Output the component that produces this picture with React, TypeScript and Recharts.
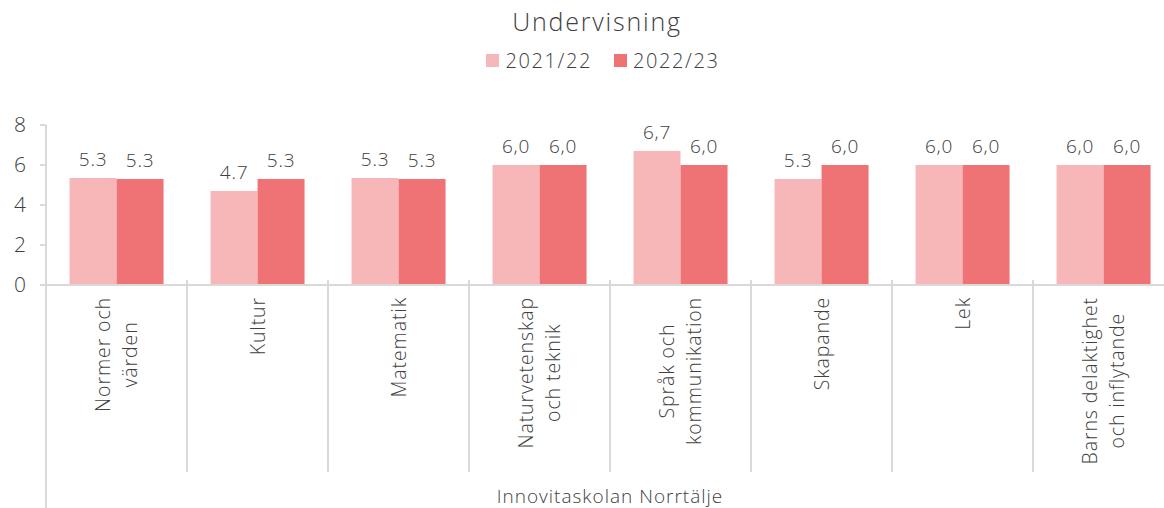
import React from "react";
import { BarChart, Bar, XAxis, YAxis, LabelList } from "recharts";

const categories = [
	["Normer och", "värden"],
	["Kultur"],
	["Matematik"],
	["Naturvetenskap", "och teknik"],
	["Språk och", "kommunikation"],
	["Skapande"],
	["Lek"],
	["Barns delaktighet", "och inflytande"],
];
const values2122 = [5.35, 4.7, 5.35, 6.0, 6.7, 5.3, 6.0, 6.0];
const values2223 = [5.3, 5.3, 5.3, 6.0, 6.0, 6.0, 6.0, 6.0];
const labels2122 = ["5.3", "4.7", "5.3", "6,0", "6,7", "5.3", "6,0", "6,0"];
const labels2223 = ["5.3", "5.3", "5.3", "6,0", "6,0", "6,0", "6,0", "6,0"];
const seriesNames = ["2021/22", "2022/23"];
const yTicks = [0, 2, 4, 6, 8];
const groupLabel = "Innovitaskolan Norrtälje";

const FONT = "'Open Sans', sans-serif";
const WEIGHT = 300;
const TEXT = "#404040";
const GRID = "#d9d9d9";
const LIGHT = "#f7b7b9";
const DARK = "#ef7274";

const CHART_W = 1180;
const CHART_H = 508;
const MARGIN = { top: 125, right: 6, bottom: 0, left: 6 };
const Y_W = 40;
const PLOT_BOTTOM = CHART_H - 223;
const BAND = (CHART_W - MARGIN.left - MARGIN.right - Y_W) / categories.length;
const CAT_SIZE = 19.5;
const CAT_LS = 0.9;

const data = categories.map((c, i) => ({
	name: c.join(" "),
	a: values2122[i],
	b: values2223[i],
	la: labels2122[i],
	lb: labels2223[i],
}));

let ctx: CanvasRenderingContext2D | null = null;
function measure(s: string) {
	if (!ctx) ctx = document.createElement("canvas").getContext("2d");
	if (!ctx) return s.length * 10;
	ctx.font = `${WEIGHT} ${CAT_SIZE}px 'Open Sans'`;
	return ctx.measureText(s).width + s.length * CAT_LS;
}

function CategoryTick(props: any) {
	const { x, index } = props;
	const lines: string[] = categories[index];
	const longest = Math.max(...lines.map(measure));
	const cy = PLOT_BOTTOM + 12 + longest / 2;
	const lh = 27;
	const x0 = x - ((lines.length - 1) * lh) / 2;
	const left = x - BAND / 2;
	return (
		<g>
			<line x1={left} x2={left} y1={PLOT_BOTTOM - 5} y2={index === 0 ? CHART_H : 472} stroke={GRID} strokeWidth={2} />
			{index === categories.length - 1 && (
				<line x1={x + BAND / 2} x2={x + BAND / 2} y1={PLOT_BOTTOM - 5} y2={472} stroke={GRID} strokeWidth={2} />
			)}
			{lines.map((l, i) => (
				<text
					key={i}
					x={x0 + i * lh}
					y={cy}
					transform={`rotate(-90 ${x0 + i * lh} ${cy})`}
					textAnchor="middle"
					dominantBaseline="central"
					fontSize={CAT_SIZE}
					letterSpacing={CAT_LS}
					fontFamily={FONT}
					fontWeight={WEIGHT}
					fill={TEXT}
				>
					{l}
				</text>
			))}
			{index === 0 && (
				<text
					x={left + (BAND * categories.length) / 2}
					y={496}
					textAnchor="middle"
					dominantBaseline="central"
					fontSize={19}
					letterSpacing={1}
					fontFamily={FONT}
					fontWeight={WEIGHT}
					fill={TEXT}
				>
					{groupLabel}
				</text>
			)}
		</g>
	);
}

function ValueLabel(key: "la" | "lb") {
	return (props: any) => {
		const { x, y, width, index } = props;
		return (
			<text
				x={x + width / 2}
				y={y - 12}
				textAnchor="middle"
				fontSize={19}
				letterSpacing={0.8}
				fontFamily={FONT}
				fontWeight={WEIGHT}
				fill={TEXT}
			>
				{data[index][key]}
			</text>
		);
	};
}

function LegendBox() {
	const colors = [LIGHT, DARK];
	return (
		<div
			style={{
				position: "absolute",
				top: 47,
				left: 0,
				width: 1206,
				display: "flex",
				justifyContent: "center",
				gap: 22,
				fontFamily: FONT,
				fontWeight: WEIGHT,
				fontSize: 20,
				letterSpacing: 1.6,
				color: TEXT,
			}}
		>
			{seriesNames.map((n, i) => (
				<div key={n} style={{ display: "flex", alignItems: "center", gap: 6 }}>
					<span style={{ width: 13, height: 13, background: colors[i], display: "inline-block" }} />
					<span>{n}</span>
				</div>
			))}
		</div>
	);
}

export default function App() {
	return (
		<div style={{ position: "absolute", left: 0, top: 0, width: 1164, height: 508, overflow: "hidden", background: "#fff" }}>
			<div
				style={{
					position: "absolute",
					left: 0,
					width: 1194,
					top: 4,
					textAlign: "center",
					fontFamily: FONT,
					fontWeight: WEIGHT,
					fontSize: 25,
					letterSpacing: 1.8,
					color: TEXT,
				}}
			>
				Undervisning
			</div>
			<LegendBox />
			<BarChart
				width={CHART_W}
				height={CHART_H}
				data={data}
				margin={MARGIN}
				barGap={0}
				barCategoryGap="16.7%"
				style={{ position: "absolute", left: 0, top: 0 }}
			>
				<XAxis
					dataKey="name"
					interval={0}
					axisLine={{ stroke: GRID, strokeWidth: 2 }}
					tickLine={false}
					height={223}
					tick={<CategoryTick />}
				/>
				<YAxis
					width={Y_W}
					domain={[0, 8]}
					ticks={yTicks}
					axisLine={{ stroke: GRID, strokeWidth: 2 }}
					tickLine={{ stroke: GRID, strokeWidth: 2 }}
					tickSize={6}
					tickMargin={14}
					tick={{ fontSize: 21, fontFamily: FONT, fontWeight: WEIGHT, fill: TEXT }}
				/>
				<Bar dataKey="a" name={seriesNames[0]} fill={LIGHT} isAnimationActive={false}>
					<LabelList dataKey="la" content={ValueLabel("la")} />
				</Bar>
				<Bar dataKey="b" name={seriesNames[1]} fill={DARK} isAnimationActive={false}>
					<LabelList dataKey="lb" content={ValueLabel("lb")} />
				</Bar>
			</BarChart>
		</div>
	);
}
